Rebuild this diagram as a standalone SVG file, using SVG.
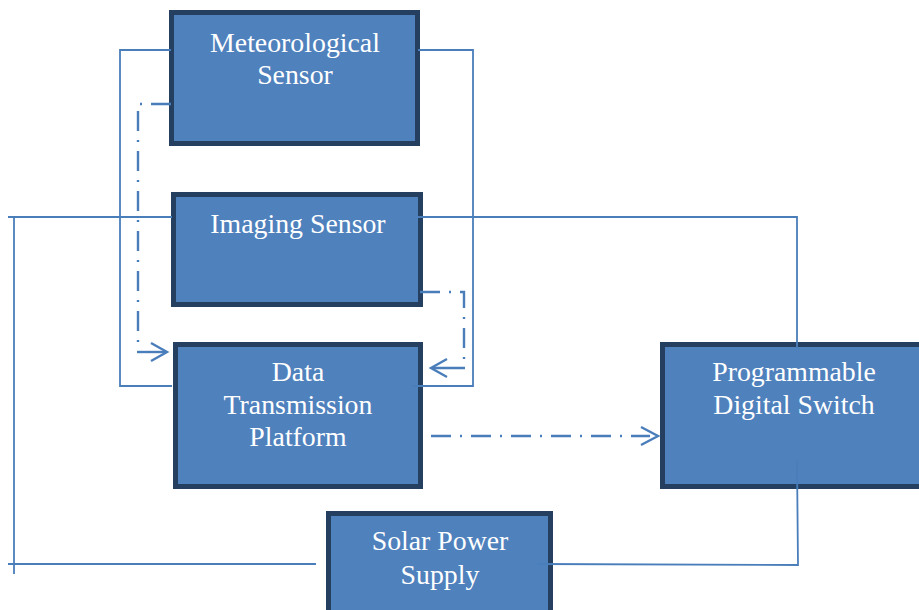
<svg xmlns="http://www.w3.org/2000/svg" width="919" height="610" viewBox="0 0 919 610">
<style>
.box{fill:#4F81BD;stroke:#243F60;stroke-width:5}
.t{font-family:"Liberation Serif","Times New Roman",serif;font-size:27.8px;fill:#FFFFFF;text-anchor:middle}
.ln{fill:none;stroke:#4A7EBB;stroke-width:1.8}
.dd{fill:none;stroke:#4A7EBB;stroke-width:2.4;stroke-dasharray:20 9 2 9}
.ah{fill:none;stroke:#4A7EBB;stroke-width:2.4}
</style>
<rect width="919" height="610" fill="#FFFFFF"/>
<g id="meteorological">
<rect class="box" x="171.5" y="12.5" width="246" height="131"/>
<text class="t" x="295" y="52">Meteorological</text>
<text class="t" x="295" y="84">Sensor</text>
</g>
<g id="imaging">
<rect class="box" x="173.5" y="194.5" width="247" height="110"/>
<text class="t" x="298" y="233">Imaging Sensor</text>
</g>
<g id="data">
<rect class="box" x="175.5" y="344.5" width="245" height="142"/>
<text class="t" x="298" y="381">Data</text>
<text class="t" x="298" y="414">Transmission</text>
<text class="t" x="298" y="446">Platform</text>
</g>
<g id="switch">
<rect class="box" x="662.5" y="344.5" width="262" height="142"/>
<text class="t" x="794" y="381">Programmable</text>
<text class="t" x="794" y="414">Digital Switch</text>
</g>
<g id="solar">
<rect class="box" x="328.5" y="513.5" width="222" height="110"/>
<text class="t" x="440" y="550">Solar Power</text>
<text class="t" x="440" y="584">Supply</text>
</g>
<g id="connectors">
<polyline class="ln" points="171,50 120,50 120,386 172,386"/>
<polyline class="ln" points="418,50 473,50 473,386 412,386"/>
<line class="ln" x1="8" y1="217" x2="172" y2="217"/>
<line class="ln" x1="14" y1="218" x2="14" y2="574"/>
<line class="ln" x1="8" y1="564" x2="316" y2="564"/>
<polyline class="ln" points="418,217 797,217 797,348"/>
<polyline class="ln" points="797,461 798,565 537,564"/>
<polyline class="dd" points="171,104 138,104 138,344"/>
<line class="ah" x1="137" y1="352" x2="166" y2="352"/>
<polyline class="ah" points="151,343 167,352 151,361"/>
<polyline class="dd" points="420,292 464,292 464,360"/>
<line class="ah" x1="465" y1="368" x2="432" y2="368"/>
<polyline class="ah" points="447,359 431,368 447,377"/>
<line class="dd" x1="431" y1="436" x2="650" y2="436"/>
<polyline class="ah" points="641,427 658,436 641,445"/>
</g>
</svg>
